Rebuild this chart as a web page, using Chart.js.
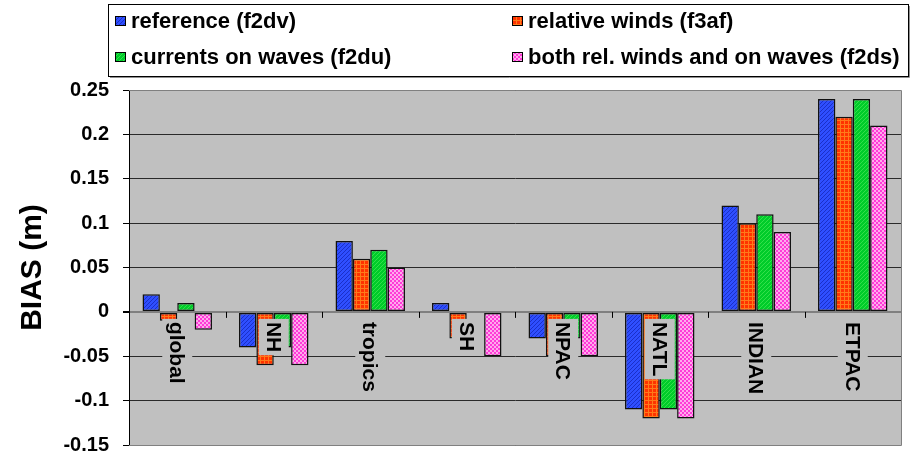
<!DOCTYPE html>
<html>
<head>
<meta charset="utf-8">
<script src="https://cdn.jsdelivr.net/npm/chart.js@4.4.0/dist/chart.umd.min.js"></script>
<style>
body { margin: 0; background: #fff; }
#wrap { width: 918px; height: 457px; }
</style>
</head>
<body>
<div id="wrap"><canvas id="chart1" width="918" height="457"></canvas></div>
<script>

const regions = ['global', 'NH', 'tropics', 'SH', 'NPAC', 'NATL', 'INDIAN', 'ETPAC'];
const seriesNames = ['reference (f2dv)', 'relative winds (f3af)', 'currents on waves (f2du)', 'both rel. winds and on waves (f2ds)'];

const reference = [0.02, -0.04, 0.08, 0.01, -0.03, -0.11, 0.12, 0.24];
const relWinds  = [-0.01, -0.06, 0.06, -0.03, -0.05, -0.12, 0.10, 0.22];
const currents  = [0.01, -0.04, 0.07, 0, -0.03, -0.11, 0.11, 0.24];
const bothRel   = [-0.02, -0.06, 0.05, -0.05, -0.05, -0.12, 0.09, 0.21];

const yTicks = [-0.15, -0.1, -0.05, 0, 0.05, 0.1, 0.15, 0.2, 0.25];

const FONT = '"Liberation Sans", Arial, sans-serif';


function makePattern(base, fg, kind) {
    const c = document.createElement('canvas');
    c.width = 4;
    c.height = 4;
    const g = c.getContext('2d');
    g.fillStyle = base;
    g.fillRect(0, 0, 4, 4);
    g.fillStyle = fg;
    if (kind == 'diag') {
        for (let i = 0; i < 4; i++) {
            g.fillRect(i, 3 - i, 1, 1);
        }
    } else if (kind == 'grid') {
        g.fillRect(0, 0, 4, 1);
        g.fillRect(0, 0, 1, 4);
    } else {
        g.fillRect(0, 0, 2, 2);
        g.fillRect(2, 2, 2, 2);
    }
    return g.createPattern(c, 'repeat');
}

const fills = [
    makePattern('#2f4fff', '#1a2fc8', 'diag'),
    makePattern('#ff3300', '#ff7a1a', 'grid'),
    makePattern('#00cc2a', '#33e04a', 'diag'),
    makePattern('#ff3ad8', '#ffaaec', 'check')
];


const decor = {
    id: 'decor',

    beforeDraw(chart) {
        const a = chart.chartArea;
        const ctx = chart.ctx;
        ctx.save();
        ctx.fillStyle = '#c0c0c0';
        ctx.fillRect(a.left, a.top, a.right - a.left, a.bottom - a.top);
        ctx.restore();
    },

    afterDatasetsDraw(chart) {
        const a = chart.chartArea;
        const ctx = chart.ctx;
        const xs = chart.scales.x;
        const ys = chart.scales.y;
        const zero = ys.getPixelForValue(0);

        ctx.save();

        // tick marks on the zero line, between categories
        ctx.strokeStyle = '#000';
        ctx.lineWidth = 1;
        for (let i = 1; i <= regions.length; i++) {
            let x;
            if (i < regions.length) {
                x = (xs.getPixelForValue(i - 1) + xs.getPixelForValue(i)) / 2;
            } else {
                x = a.right;
            }
            x = Math.round(x) + 0.5;
            ctx.beginPath();
            ctx.moveTo(x, zero);
            ctx.lineTo(x, zero + 6);
            ctx.stroke();
        }

        // rotated category labels with grey boxes
        ctx.font = 'bold 21px ' + FONT;
        regions.forEach( function(label, i) {
            const x = xs.getPixelForValue(i);
            const w = ctx.measureText(label).width;
            const y0 = zero + 10;

            ctx.fillStyle = '#c0c0c0';
            ctx.fillRect(x - 15, y0 - 3, 30, w + 6);

            ctx.save();
            ctx.translate(x, y0);
            ctx.rotate(Math.PI / 2);
            ctx.fillStyle = '#000';
            ctx.textAlign = 'left';
            ctx.textBaseline = 'middle';
            ctx.fillText(label, 0, 1);
            ctx.restore();
        });

        ctx.restore();
    },

    afterDraw(chart) {
        const a = chart.chartArea;
        const ctx = chart.ctx;
        ctx.save();

        // plot frame
        ctx.strokeStyle = '#808080';
        ctx.lineWidth = 1;
        ctx.beginPath();
        ctx.moveTo(a.left, a.top + 0.5);
        ctx.lineTo(a.right + 0.5, a.top + 0.5);
        ctx.lineTo(a.right + 0.5, a.bottom + 0.5);
        ctx.lineTo(a.left, a.bottom + 0.5);
        ctx.stroke();

        // legend box
        ctx.fillStyle = '#fff';
        ctx.fillRect(108, 4, 801, 73);
        ctx.strokeStyle = '#000';
        ctx.strokeRect(108.5, 4.5, 800, 72);
        ctx.strokeStyle = '#909090';
        ctx.beginPath();
        ctx.moveTo(110, 77.5);
        ctx.lineTo(909.5, 77.5);
        ctx.lineTo(909.5, 6);
        ctx.stroke();

        const spots = [[115, 21], [512, 21], [115, 57], [512, 57]];
        ctx.font = 'bold 22px ' + FONT;
        ctx.textBaseline = 'middle';
        ctx.textAlign = 'left';
        seriesNames.forEach( function(name, i) {
            const p = spots[i];
            ctx.fillStyle = fills[i];
            ctx.fillRect(p[0], p[1] - 5, 11, 10);
            ctx.strokeStyle = '#000';
            ctx.strokeRect(p[0] + 0.5, p[1] - 4.5, 10, 9);
            ctx.fillStyle = '#000';
            ctx.fillText(name, p[0] + 16, p[1] + 1);
        });

        ctx.restore();
    }
};


const seriesData = [reference, relWinds, currents, bothRel];

const chart1 = new Chart(document.getElementById('chart1'), {
    type: 'bar',
    data: {
        labels: regions,
        datasets: seriesData.map( function(vals, i) {
            return {
                label: seriesNames[i],
                data: vals,
                backgroundColor: fills[i],
                borderColor: '#111',
                borderWidth: 1.5,
                borderSkipped: false,
                categoryPercentage: 0.72,
                barPercentage: 1.0
            };
        })
    },
    options: {
        responsive: false,
        animation: false,
        devicePixelRatio: 1,
        layout: { padding: { top: 90, right: 17, bottom: 12, left: 0 } },
        plugins: {
            legend: { display: false },
            tooltip: { enabled: false }
        },
        scales: {
            x: {
                display: false,
                offset: true
            },
            y: {
                min: -0.15,
                max: 0.25,
                afterBuildTicks: function(s) {
                    s.ticks = yTicks.map(v => ({ value: v }));
                },
                afterFit: function(s) {
                    s.width = 129;
                    s.paddingTop = 0;
                    s.paddingBottom = 0;
                },
                grid: {
                    color: c => (c.tick && c.tick.value == 0) ? '#808080' : '#2a2a2a',
                    lineWidth: c => (c.tick && c.tick.value == 0) ? 2 : 1,
                    tickLength: 6,
                    tickColor: '#000'
                },
                border: { color: '#000', width: 1 },
                ticks: {
                    color: '#000',
                    padding: 14,
                    font: { family: FONT, size: 20, weight: 'bold' },
                    callback: v => String(parseFloat(Number(v).toFixed(2)))
                },
                title: {
                    display: true,
                    text: 'BIAS (m)',
                    color: '#000',
                    font: { family: FONT, size: 30, weight: 'bold' },
                    padding: { top: 15, bottom: 0 }
                }
            }
        }
    },
    plugins: [decor]
});

</script>
</body>
</html>
